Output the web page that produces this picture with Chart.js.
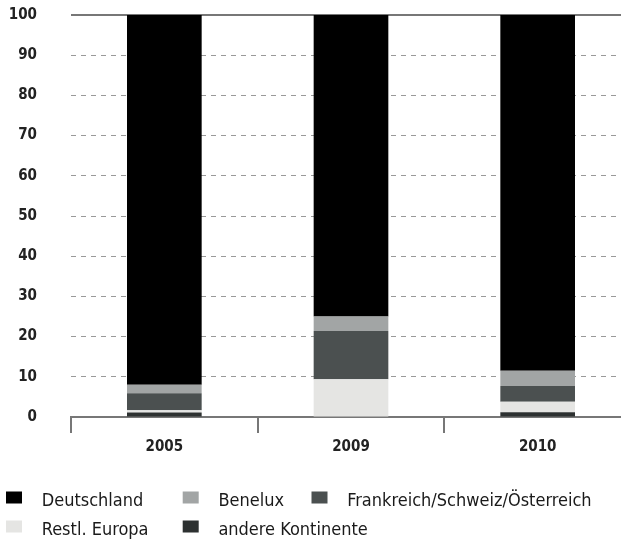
<!DOCTYPE html>
<html><head><meta charset="utf-8">
<script src="https://cdn.jsdelivr.net/npm/chart.js@4/dist/chart.umd.min.js"></script>
<style>
html,body{margin:0;padding:0;background:#fff;overflow:hidden;width:621px;height:539px}
#wrap{position:relative;width:640px;height:539px}
</style></head><body>
<div id="wrap"><canvas id="c"></canvas></div>
<script>
// ---- data ----
const years = ['2005', '2009', '2010'];
const seriesNames = ['Deutschland', 'Benelux', 'Frankreich/Schweiz/Österreich', 'Restl. Europa', 'andere Kontinente'];
const deutschland = [92, 75, 88.5];
const benelux = [2.1, 3.6, 3.8];
const frankreichSchweizOesterreich = [4.2, 12, 3.9];
const restlEuropa = [0.6, 9.4, 2.6];
const andereKontinente = [1.1, 0, 1.2];
const yTickValues = [0, 10, 20, 30, 40, 50, 60, 70, 80, 90, 100];

// ---- styles ----
const colors = {
  'Deutschland': '#000000',
  'Benelux': '#a2a5a5',
  'Frankreich/Schweiz/Österreich': '#4b5050',
  'Restl. Europa': '#e5e5e3',
  'andere Kontinente': '#2d3131'
};
const valuesByName = {
  'Deutschland': deutschland,
  'Benelux': benelux,
  'Frankreich/Schweiz/Österreich': frankreichSchweizOesterreich,
  'Restl. Europa': restlEuropa,
  'andere Kontinente': andereKontinente
};
// stacking order: bottom first
const stackOrder = ['andere Kontinente', 'Restl. Europa', 'Frankreich/Schweiz/Österreich', 'Benelux', 'Deutschland'];

const FONT = '"DejaVu Sans Condensed", "DejaVu Sans", sans-serif';

const gridLegend = {
  id: 'gridLegend',
  afterDraw(chart) {
    const ctx = chart.ctx;
    const cols = [6, 182.7, 311.5];
    const rows = [497.5, 526.5];
    ctx.save();
    seriesNames.forEach((name, i) => {
      const ds = chart.data.datasets.find(d => d.label === name);
      const col = i < 3 ? i : i - 3;
      const row = i < 3 ? 0 : 1;
      const x = cols[col], y = rows[row];
      ctx.fillStyle = ds.backgroundColor;
      ctx.fillRect(x, y - 6, 16, 12);
      ctx.fillStyle = '#1a1a1a';
      ctx.font = '18px ' + FONT;
      ctx.textBaseline = 'alphabetic';
      ctx.textAlign = 'left';
      ctx.fillText(name, x + 35.7, y + 8);
    });
    ctx.restore();
  }
};

new Chart(document.getElementById('c'), {
  type: 'bar',
  data: {
    labels: years,
    datasets: stackOrder.map(name => ({
      label: name,
      data: valuesByName[name],
      backgroundColor: colors[name],
      borderWidth: 0,
      barPercentage: 1,
      categoryPercentage: 0.4
    }))
  },
  options: {
    responsive: true,
    maintainAspectRatio: false,
    animation: false,
    layout: { padding: { left: 0, right: 9, top: 15, bottom: 78 } },
    plugins: { legend: { display: false }, tooltip: { enabled: false } },
    scales: {
      x: {
        stacked: true,
        offset: true,
        grid: { display: true, drawOnChartArea: false, drawTicks: true, tickLength: 16, color: '#777', lineWidth: 2 },
        border: { display: true, color: '#777', width: 2 },
        ticks: { color: '#222', padding: 5, font: { family: FONT, size: 15, weight: 'bold' } }
      },
      y: {
        stacked: true,
        min: 0, max: 100,
        afterFit(s) { s.width = 71; s.paddingTop = 9; s.paddingBottom = 9; },
        afterBuildTicks(s) { s.ticks = yTickValues.map(v => ({ value: v })); },
        grid: {
          drawTicks: false,
          color: c => c.tick.value === 0 ? 'rgba(0,0,0,0)' : (c.tick.value === 100 ? '#777' : '#999'),
          lineWidth: c => c.tick.value === 100 ? 2 : 1
        },
        border: { display: false, dash: c => (c.tick && (c.tick.value === 100 || c.tick.value === 0)) ? [] : [5, 5] },
        ticks: { color: '#222', padding: 34, font: { family: FONT, size: 15, weight: 'bold' } }
      }
    }
  },
  plugins: [gridLegend]
});
</script>
</body></html>
